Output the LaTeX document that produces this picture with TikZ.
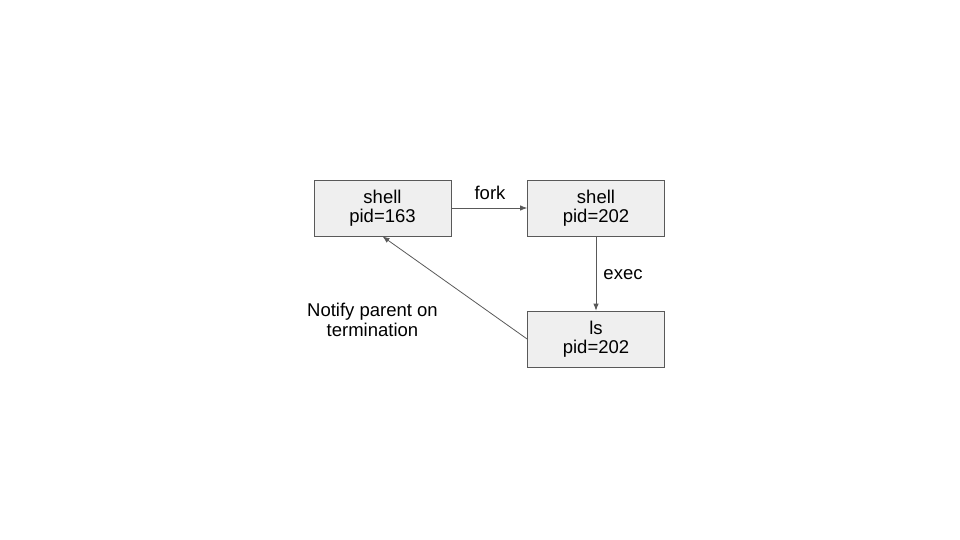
\documentclass[tikz,border=0pt]{standalone}
\usepackage{fontspec}
\setmainfont{Liberation Sans}
\usetikzlibrary{arrows.meta}
\definecolor{boxfill}{HTML}{EFEFEF}
\definecolor{boxline}{HTML}{595959}

\begin{document}
\begin{tikzpicture}[x=1pt,y=-1pt,
    proc/.style={rectangle,draw=boxline,fill=boxfill,line width=0.8pt,
      minimum width=137pt,minimum height=56pt,align=center,
      font=\fontsize{18.5}{19.3}\selectfont,
      execute at begin node={\rule{0pt}{20.6pt}}},
    link/.style={draw=boxline,line width=0.8pt,-{Latex[length=7pt,width=5.5pt]}},
    lbl/.style={align=center,font=\fontsize{18.5}{20}\selectfont}]
    \useasboundingbox (0,0) rectangle (960,540);

    % Place the nodes
    \node[proc] (sh163) at (382.5,208) {shell\\pid=163};
    \node[proc] (sh202) at (596,208)   {shell\\pid=202};
    \node[proc] (ls202) at (596,339)   {ls\\pid=202};

    % Draw the lines
    \draw[link] (sh163) -- (sh202);
    \draw[link] (sh202) -- (ls202);
    \draw[link] (ls202.west) -- (sh163.south);

    % Finally the labels
    \node[lbl] (fork)   at (490,193) {fork};
    \node[lbl] (exec)   at (623,275) {exec};
    \node[lbl] (notify) at (372.5,320) {Notify parent on\\termination};

\end{tikzpicture}
\end{document}
